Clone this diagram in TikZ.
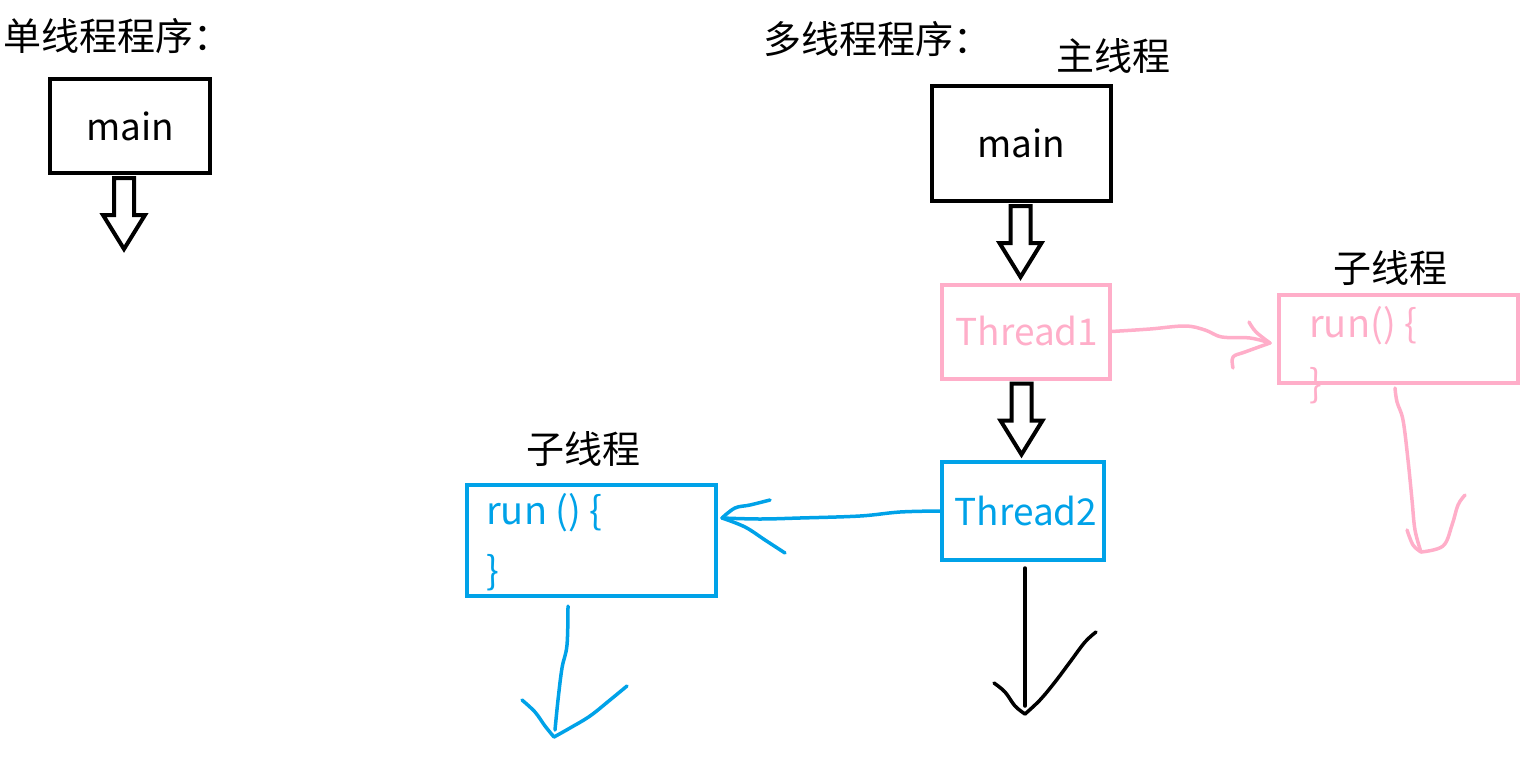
\documentclass[tikz,border=0pt]{standalone}
\usepackage{fontspec}
\setmainfont{Noto Sans CJK SC}
\usetikzlibrary{calc}
\definecolor{pinkc}{RGB}{255,174,201}
\definecolor{bluec}{RGB}{0,162,232}
\begin{document}
\begin{tikzpicture}[x=1pt,y=-1pt,
 box/.style={draw, line width=4pt, inner sep=0pt, font=\fontsize{37}{40}\selectfont},
 ttl/.style={inner sep=0pt, font=\fontsize{38}{40}\selectfont},
 code/.style={inner sep=0pt, anchor=west, font=\fontsize{38}{40}\selectfont},
 hand/.style={line width=3.5pt, line cap=round, line join=round},
 hollow/.pic={\draw[line width=4pt, miter limit=10] (-10,0) -- (-10,37) -- (-21,37) -- (0,71) -- (21,37) -- (10,37) -- (10,0) -- cycle;}
]
\useasboundingbox (0,0) rectangle (1532,766);
% titles
\node[ttl, anchor=west] (t1) at (3,36) {单线程程序：};
\node[ttl, anchor=west] (t2) at (763,39) {多线程程序：};
\node[ttl] (t3) at (1113,56) {主线程};
\node[ttl] (t4) at (1390,268) {子线程};
\node[ttl] (t5) at (583,449) {子线程};
% boxes
\node[box, minimum width=160, minimum height=94] (main1) at (130,126) {main};
\node[box, minimum width=179, minimum height=115] (main2) at (1021.5,143.5) {main};
\node[box, draw=pinkc, text=pinkc, minimum width=168, minimum height=94] (th1) at (1025.5,331.5) {\hspace*{3pt}Thread1};
\node[box, draw=pinkc, minimum width=239, minimum height=88] (prun) at (1398,338.5) {};
\node[box, draw=bluec, text=bluec, minimum width=162, minimum height=98] (th2) at (1023,511) {\hspace*{6pt}Thread2};
\node[box, draw=bluec, minimum width=249, minimum height=111] (brun) at (591.5,540.5) {};
% code text
\node[code, text=pinkc] (pr1) at (1309,326) {run() \{};
\node[code, text=pinkc] (pr2) at (1309,386) {\}};
\node[code, text=bluec] (br1) at (486,513) {run () \{};
\node[code, text=bluec] (br2) at (486,573) {\}};
% hollow arrows
\pic at ($(main1.south)+(-6,3)$) {hollow};
\pic at ($(main2.south)+(-1,3)$) {hollow};
\pic at ($(th1.south)+(-4,3)$) {hollow};
% pink arrow th1 -> prun
\coordinate (pe) at (1270,343);
\draw[hand, pinkc] plot[smooth, tension=0.6] coordinates {(th1.east) (1150,329) (1185,326) (1205,330) (1222,337) (1250,338) (pe)};
\draw[hand, pinkc] plot[smooth, tension=0.6] coordinates {(1249,322) (1256,332) (pe)};
\draw[hand, pinkc] plot[smooth, tension=0.6] coordinates {(1233,368) (1233,357) (1245,352) (pe)};
% pink down
\coordinate (ps) at (1395,388);
\coordinate (pd) at (1421,552);
\draw[hand, pinkc] plot[smooth, tension=0.6] coordinates {(ps) (1397,402) (1403,420) (1408,460) (1412,500) (1415,530) (pd)};
\draw[hand, pinkc] plot[smooth, tension=0.6] coordinates {(1407,530) (1413,545) (pd)};
\draw[hand, pinkc] plot[smooth, tension=0.6] coordinates {(1465,495) (1458,505) (1452,525) (1443,546) (pd)};
% blue arrow th2 -> brun
\coordinate (be) at (722,518);
\draw[hand, bluec] plot[smooth, tension=0.6] coordinates {(th2.west) (900,512) (860,516) (800,518) (760,519) (be)};
\draw[hand, bluec] plot[smooth, tension=0.6] coordinates {(770,500) (750,505) (735,508) (be)};
\draw[hand, bluec] plot[smooth, tension=0.6] coordinates {(785,553) (765,540) (745,527) (be)};
% blue down
\coordinate (bs) at (568,606);
\coordinate (bd) at (554,737);
\draw[hand, bluec] plot[smooth, tension=0.6] coordinates {(bs) (567,645) (562,668) (558,700) (555,730)};
\draw[hand, bluec] plot[smooth, tension=0.6] coordinates {(522,700) (535,712) (545,726) (bd)};
\draw[hand, bluec] plot[smooth, tension=0.6] coordinates {(627,686) (610,700) (590,716) (570,728) (bd)};
% black down
\coordinate (kd) at (1025,714);
\draw[hand] ($(th2.south)+(2,6)$) -- (1025,706);
\draw[hand] plot[smooth, tension=0.6] coordinates {(994,683) (1005,692) (1015,706) (kd)};
\draw[hand] plot[smooth, tension=0.6] coordinates {(1096,632) (1085,642) (1070,662) (1055,682) (1040,700) (kd)};
\end{tikzpicture}
\end{document}
